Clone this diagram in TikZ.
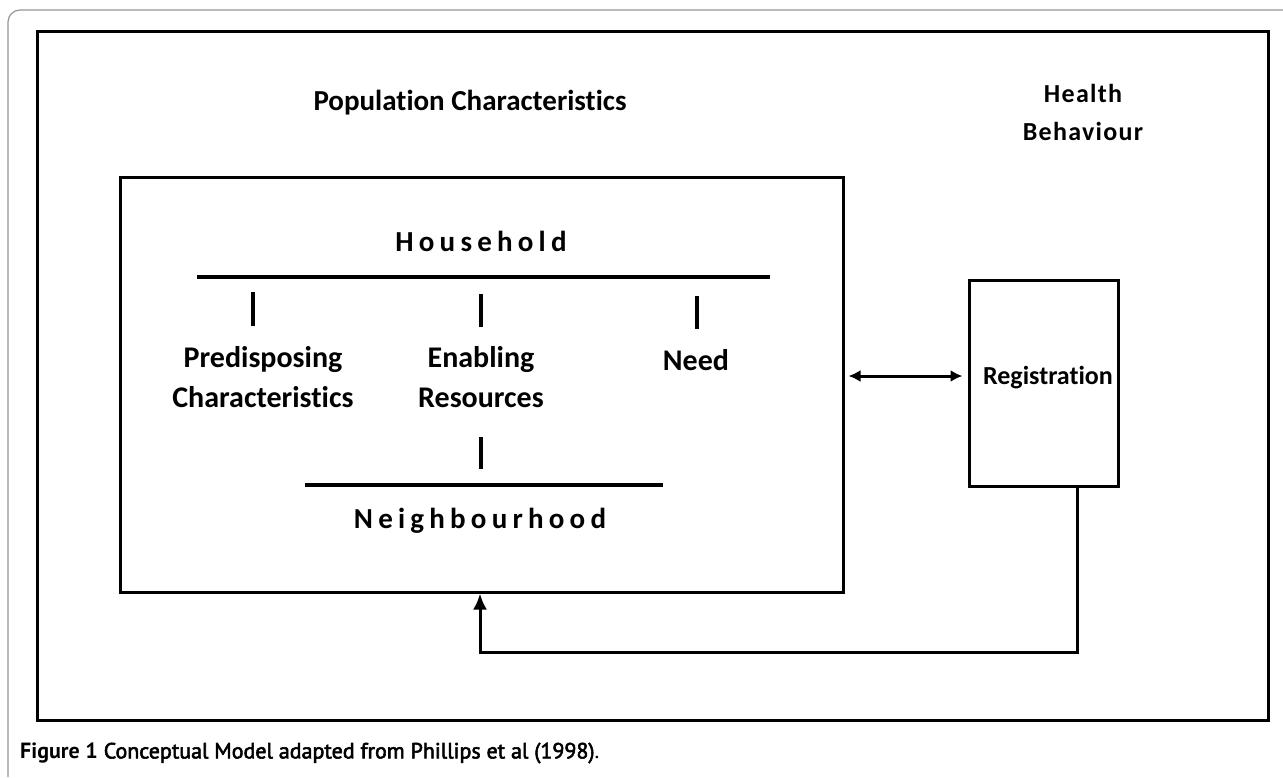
\documentclass[tikz,border=0pt]{standalone}
\usepackage{fontspec}
\setmainfont[Ligatures=NoCommon]{Carlito}
\newfontfamily\spacedfont[LetterSpace=18,Ligatures=NoCommon]{Carlito}
\newfontfamily\hbfont[LetterSpace=5,Ligatures=NoCommon]{Carlito}
\newfontfamily\capfont{PT Sans}
\newfontfamily\capmid[FakeBold=2.5]{PT Sans}
\usetikzlibrary{arrows.meta}
\definecolor{framegray}{RGB}{150,150,150}
\begin{document}
\begin{tikzpicture}[x=1pt,y=-1pt,
  box/.style={draw=black, line width=3pt, inner sep=0pt},
  bar/.style={line width=3.5pt},
  tick/.style={line width=4pt},
  conn/.style={line width=3pt},
  title/.style={font=\fontsize{29}{34}\selectfont\bfseries, inner sep=0pt},
  lbl/.style={font=\fontsize{30}{40}\selectfont\bfseries, align=center, inner sep=0pt},
  sp/.style={font=\spacedfont\bfseries\fontsize{29}{34}\selectfont, inner sep=0pt},
  hb/.style={font=\hbfont\bfseries\fontsize{26}{38}\selectfont, align=center, inner sep=0pt},
]
\fill[white] (0,0) rectangle (1283,777);
\useasboundingbox (0,0) rectangle (1283,777);
% outer rounded frame
\draw[framegray, line width=1.2pt, rounded corners=12pt] (1283,10) -- (8,10) -- (8,777);
% inner frame
\draw[line width=3pt] (37,31.5) rectangle (1268,720);

% titles
\node[title] (popt) at (470,103) {Population Characteristics};
\node[hb] (hbt) at (1083,112) {Health\\Behaviour};

% boxes
\node[box, minimum width=723, minimum height=415] (pop) at (481.5,384.5) {};
\node[box, minimum width=149, minimum height=206] (reg) at (1043.5,383) {};
\node[font=\fontsize{26}{30}\selectfont\bfseries, inner sep=0pt] (regt) at (1048,378) {Registration};

% household
\node[sp] (hh) at (481,241) {Household};
\coordinate (hl) at (197,277);
\coordinate (hr) at (770,277);
\draw[bar] (hl) -- (hr);

\node[lbl] (pre) at (263,377) {Predisposing\\Characteristics};
\node[lbl] (ena) at (481,377) {Enabling\\Resources};
\node[lbl] (need) at (696,360) {Need};

\draw[tick] (253,292) -- (253,326);
\draw[tick] (481,294) -- (481,327);
\draw[tick] (697,296) -- (697,329);
\draw[tick] (481,437) -- (481,469);

% neighbourhood
\coordinate (nl) at (305,485);
\coordinate (nr) at (663,485);
\draw[bar] (nl) -- (nr);
\node[sp] (nb) at (480,521) {Neighbourhood};

% connectors
\coordinate (ay) at (0,376);
\draw[conn, {Latex[length=12pt,width=12pt]}-{Latex[length=12pt,width=12pt]}, shorten <=4pt, shorten >=5pt] (pop.east |- ay) -- (reg.west |- ay);
\coordinate (fb1) at (1077,652);
\coordinate (fb2) at (480,652);
\draw[conn, -{Latex[length=16pt,width=14pt]}] (reg.south -| fb1) -- (fb1) -- (fb2) -- (pop.south -| fb2);

% caption
\node[anchor=west, inner sep=0pt, font=\capfont\fontsize{22}{26}\selectfont] (cap) at (20,753) {\textbf{Figure 1} \capmid Conceptual Model adapted from Phillips et al (1998)\capfont.};
\end{tikzpicture}
\end{document}
